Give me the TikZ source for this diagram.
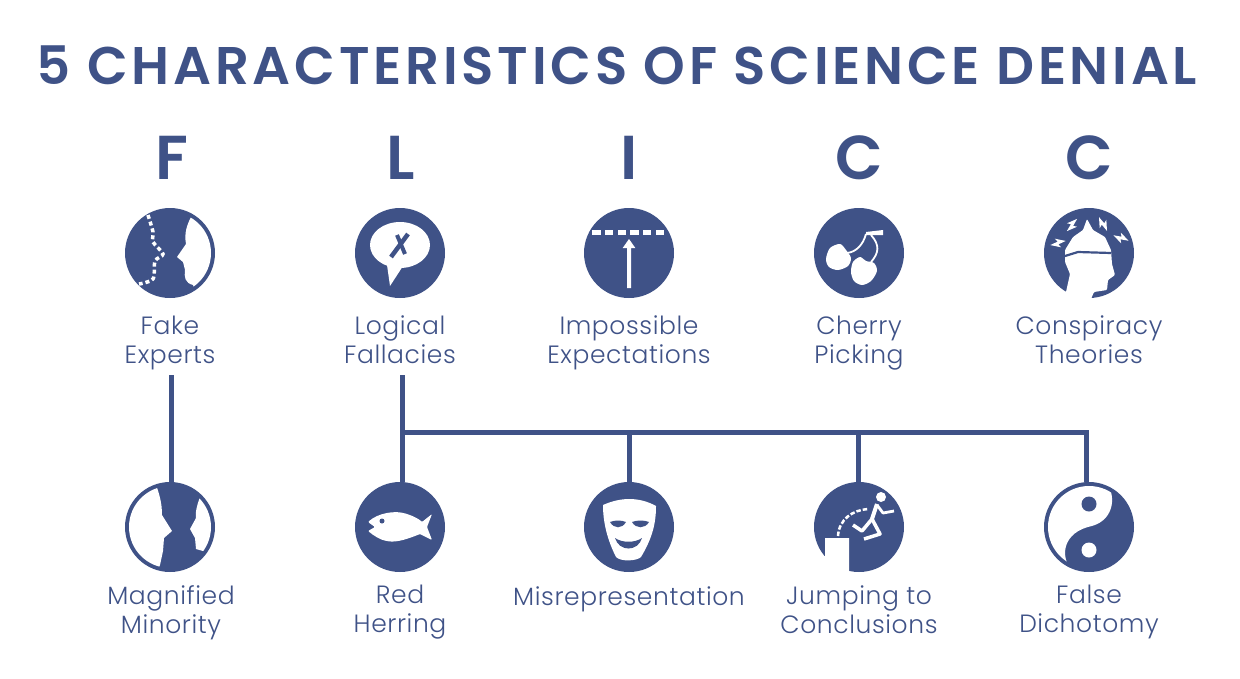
\documentclass[tikz,border=0pt]{standalone}
\usepackage{fontspec}
\setmainfont{Poppins}[UprightFont=* Light,BoldFont=* SemiBold]
\usetikzlibrary{positioning}
\definecolor{denialblue}{HTML}{3F5287}
\newcommand{\boltat}[2]{\fill[white,shift={#1},rotate=#2] (-8,0) -- (0,-1.4) -- (-2,-5) -- (8,0) -- (0,1.4) -- (2,5) -- cycle;}

\begin{document}
\begin{tikzpicture}[x=1pt,y=-1pt,
    iconnode/.style={circle, fill=denialblue, minimum size=90pt, inner sep=0pt},
    namelabel/.style={anchor=north, align=center, text=denialblue, inner sep=0pt,
        font=\fontsize{25}{29}\selectfont\addfontfeatures{LetterSpace=2.4}, execute at begin node=\strut, execute at end node=\strut},
    letterhead/.style={text=denialblue, font=\fontsize{62}{62}\selectfont\bfseries},
    link/.style={draw=denialblue, line width=5pt},
    dashline/.style={draw=white, line width=3.5pt, dash pattern=on 4pt off 3pt}]
    \useasboundingbox (0,0) rectangle (1240,678);

    \node [text=denialblue, font=\fontsize{53}{53}\selectfont\bfseries\addfontfeatures{LetterSpace=7.1}] at (617,65) (title) {5 CHARACTERISTICS OF SCIENCE DENIAL};

    \node [letterhead] at (172,158)  (letterF) {F};
    \node [letterhead] at (401,158)  (letterL) {L};
    \node [letterhead] at (629,158)  (letterI) {I};
    \node [letterhead] at (859,158)  (letterCa) {C};
    \node [letterhead] at (1089,158) (letterCb) {C};

    \node [iconnode] at (170,253)  (fake) {};
    \node [iconnode] at (400,253)  (logical) {};
    \node [iconnode] at (629,253)  (impossible) {};
    \node [iconnode] at (859,253)  (cherry) {};
    \node [iconnode] at (1089,253) (conspiracy) {};
    \node [iconnode] at (170,527)  (minority) {};
    \node [iconnode] at (400,527)  (herring) {};
    \node [iconnode] at (629,527)  (mask) {};
    \node [iconnode] at (859,527)  (jump) {};
    \node [iconnode] at (1089,527) (dichotomy) {};

    \node [namelabel] at (170,315.5)  (fakename) {Fake\\Experts};
    \node [namelabel] at (400,315.5)  (logicalname) {Logical\\Fallacies};
    \node [namelabel] at (629,315.5)  (impossiblename) {Impossible\\Expectations};
    \node [namelabel] at (859,315.5)  (cherryname) {Cherry\\Picking};
    \node [namelabel] at (1089,315.5) (conspiracyname) {Conspiracy\\Theories};
    \node [namelabel] at (171,585)  (minorityname) {Magnified\\Minority};
    \node [namelabel] at (400,585)  (herringname) {Red\\Herring};
    \node [namelabel] at (629,585)  (maskname) {Misrepresentation};
    \node [namelabel] at (859,585)  (jumpname) {Jumping to\\Conclusions};
    \node [namelabel] at (1089,585) (dichotomyname) {False\\Dichotomy};

    \coordinate (branch) at (402,432);
    \draw[link] (fakename.south) ++(1,3) -- (minority.north -| 171,0);
    \draw[link] (logicalname.south) ++(2,3) -- ([xshift=2pt]herring.north);
    \draw[link] (branch) -| ([xshift=-3pt]dichotomy.north);
    \draw[link] (mask.north |- branch) -- (mask.north);
    \draw[link] ([xshift=-1pt]jump.north |- branch) -- ([xshift=-1pt]jump.north);

    % fake experts
    \begin{scope}[shift={(fake.center)}]
        \clip (0,0) circle[radius=41];
        \fill[white] (21,-36) .. controls (17,-28) and (14,-20) .. (16,-9) -- (7,4) -- (13,9) -- (14,13) -- (15,17)
            .. controls (14,24) and (15,30) .. (23,32) -- (30,50) -- (60,0) -- (30,-50) -- cycle;
    \end{scope}
    \begin{scope}[shift={(fake.center)}]
        \draw[dashline] plot[smooth] coordinates {(-22,-38) (-17,-21) (-17,-11) (-7,1) (-15,8) (-17,26) (-31,31)};
    \end{scope}

    % logical fallacies
    \begin{scope}[shift={(logical.center)}]
        \fill[white] (0,-8) ellipse[x radius=30, y radius=23];
        \fill[white] (-13,12) -- (-10,33) -- (3,13) -- cycle;
        \draw[denialblue, line width=4.5pt] (8,-19) -- (-9,4);
        \draw[denialblue, line width=4pt] (-3,-18) -- (5,1);
    \end{scope}

    % impossible expectations
    \begin{scope}[shift={(impossible.center)}]
        \foreach \dashx in {-32.7,-20,-7.3,5.3,18,30.7}
            \fill[white] (\dashx-4.2,-23.5) rectangle (\dashx+4.2,-18);
        \fill[white] (-2,35) -- (-2,-5) -- (-6.3,-5) -- (0,-14) -- (6.3,-5) -- (2,-5) -- (2,35) -- cycle;
    \end{scope}

    % cherry picking
    \begin{scope}[shift={(cherry.center)}]
        \fill[white] (7,-21) -- (24,-23) -- (24,-18) -- (7,-18) -- cycle;
        \draw[white, line width=1.8pt] (7,-19) .. controls (4,-8) and (-3,-1) .. (-12,0);
        \draw[white, line width=1.8pt] (12,-18) .. controls (21,-8) and (20,0) .. (12,9);
        \fill[white] plot[smooth cycle] coordinates {(-13,-3) (-19,-9) (-29,-5) (-33,6) (-30,14) (-21,17) (-11,13) (-8,5)};
        \fill[white] plot[smooth cycle] coordinates {(7,8) (1,4) (-6,9) (-8,19) (-5,28) (3,32) (12,28) (18,18) (15,10)};
    \end{scope}

    % conspiracy theories
    \begin{scope}[shift={(conspiracy.center)}]
        \fill[white, rounded corners=1pt] (-2,-34) -- (4,-23) -- (16,-16) -- (22,-3) -- (23,11) -- (26,22) -- (19,27)
            -- (18,37) -- (5,39) -- (2,46) -- (-23,46) -- (-23,39) -- (-19,21) -- (-24,9) -- (-24,-3) -- (-16,-16) -- (-6,-23) -- cycle;
        \draw[denialblue, line width=2.2pt] (-24,3) -- (-11,-1) -- (22,0);
        \boltat{(-31,-10)}{15}
        \boltat{(-17,-28)}{50}
        \boltat{(14,-29)}{-60}
        \boltat{(32,-15)}{-20}
    \end{scope}

    % magnified minority
    \begin{scope}[shift={(minority.center)}]
        \clip (0,0) circle[radius=41];
        \fill[white] (-15,-45) .. controls (-11,-34) and (-8,-25) .. (-8,-12) -- (2,4) -- (-6,11) -- (-7,24) -- (-10,38) -- (-15,50) -- (-60,0) -- cycle;
        \fill[white] (30,-30) .. controls (27,-22) and (25,-14) .. (26,-9) -- (20,2) -- (25,11) -- (26,22) -- (33,24) -- (50,20) -- (50,-20) -- cycle;
    \end{scope}

    % red herring
    \begin{scope}[shift={(herring.center)}]
        \fill[white, rounded corners=1pt] (-32,-5) .. controls (-22,-14) and (-5,-17) .. (7,-13) .. controls (13,-11) and (19,-8) .. (22,-5)
            -- (32,-13) -- (27,0) -- (32,13) -- (20,7) .. controls (10,11) and (-3,16) .. (-13,14)
            .. controls (-20,13) and (-27,8) .. (-32,4) -- (-25,0) -- cycle;
        \fill[denialblue] (-18,-6) circle[radius=2.5];
    \end{scope}

    % misrepresentation
    \begin{scope}[shift={(mask.center)}]
        \fill[white] (-26,-22) .. controls (-17,-26) and (-8,-28) .. (0,-28) .. controls (9,-28) and (18,-26) .. (27,-21)
            .. controls (27,-5) and (24,10) .. (12,30) .. controls (8,34) and (-8,35) .. (-13,30)
            .. controls (-22,12) and (-26,-5) .. (-26,-22) -- cycle;
        \fill[denialblue] (-19,-5) .. controls (-14,-7) and (-8,-7) .. (-3,-5) .. controls (-7,2) and (-15,2) .. (-19,-5) -- cycle;
        \fill[denialblue] (3,-5) .. controls (8,-7) and (15,-7) .. (20,-5) .. controls (16,2) and (7,2) .. (3,-5) -- cycle;
        \fill[denialblue] (-14,11) .. controls (-7,16) and (6,16) .. (13,11) .. controls (9,25) and (-10,25) .. (-14,11) -- cycle;
    \end{scope}

    % jumping to conclusions
    \begin{scope}[shift={(jump.center)}]
        \fill[white] (-34,11) -- (-10,11) -- (-10,47) -- (-40,47) -- (-40,29) -- (-34,29) -- cycle;
        \fill[white] (22,-30) circle[radius=5];
        \draw[white, line width=4pt, line join=round] (18,-23) -- (13,-8);
        \draw[white, line width=2.8pt, line join=round] (18,-22) -- (24,-14) -- (35,-16);
        \draw[white, line width=3.5pt, line join=round] (13,-8) -- (3,4) -- (-6,-2);
        \draw[white, line width=3.5pt, line join=round] (13,-8) -- (21,7) -- (5,12);
        \draw[white, line width=2.5pt, dash pattern=on 4.5pt off 2pt] (-21,9) .. controls (-20,-8) and (-6,-17) .. (9,-18);
    \end{scope}

    % false dichotomy
    \begin{scope}[shift={(dichotomy.center)}]
        \clip (0,0) circle[radius=41];
        \fill[white] (18,-42) .. controls (26,-34) and (27,-8) .. (3,-1) .. controls (-27,5) and (-28,30) .. (-19,40) -- (-60,50) -- (-60,-50) -- cycle;
        \fill[denialblue] (0,-23) circle[radius=7.5];
        \fill[white] (0,23) circle[radius=7.5];
    \end{scope}
\end{tikzpicture}
\end{document}
